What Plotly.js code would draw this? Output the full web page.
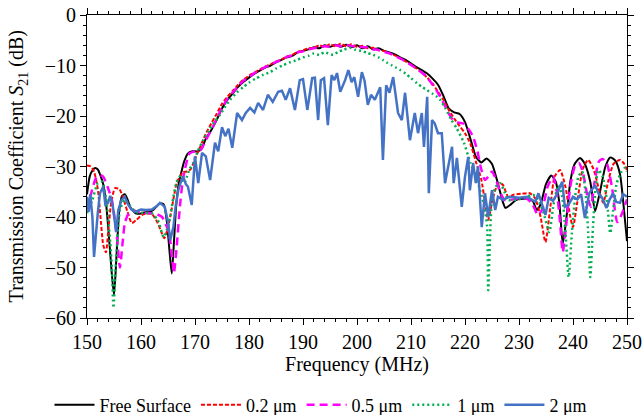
<!DOCTYPE html>
<html><head><meta charset="utf-8">
<script src="https://cdn.plot.ly/plotly-3.0.1.min.js"></script>
<style>html,body{margin:0;padding:0;background:#fff}#chart{width:642px;height:415px}</style>
</head><body><div id="chart"></div>
<script>
// Free Surface
var fFree = [150,150.5,151,151.5,152,152.5,153,153.5,154,154.5,155,155.5,156,156.5,157,157.5,158,159,160,161,162,162.8,163.5,164.2,164.8,165.3,165.7,166.1,166.5,167,167.5,168,168.7,169.5,170.5,171.2,172,173,174,175,176,177,178,179,180,181,182,183,184,185,186,187,188,189,190,191,192,193,194,195,196,197,198,199,200,201,202,203,204,205,206,207,208,209,210,211,212,213,214,215,216,217,218,219,220,221,222,223,224,225,226,227,227.5,228.5,229.5,231,232.5,233.3,234,235,236,236.8,237.5,238.1,238.8,239.5,240.3,241.3,242.2,243.2,244.1,245,246,246.9,247.8,248.7,249.3,250];
var sFree = [-35.5,-32,-30.8,-30.3,-30.6,-31.8,-33.5,-37,-43,-50,-55.5,-47,-38.5,-35.8,-35.5,-36.5,-38,-39.3,-39.3,-39,-38.8,-38,-37.3,-37.5,-41,-47,-51.2,-45,-38,-33.3,-31,-29,-27.4,-27,-27,-26.5,-24.5,-22.8,-20.8,-18.5,-16.8,-15.5,-14.2,-13.2,-12.4,-11.6,-11.0,-10.4,-10.0,-9.4,-8.9,-8.4,-8.1,-7.4,-7.1,-6.8,-6.4,-6.6,-6.0,-6.3,-5.9,-6.3,-5.9,-6.4,-6.0,-6.6,-6.2,-6.8,-6.6,-7.1,-7.4,-7.8,-8.4,-8.9,-9.6,-10.3,-10.9,-11.6,-12.6,-13.8,-16.0,-18.5,-19.3,-19.6,-21.2,-24.5,-28,-29.2,-28.4,-29.5,-33,-37,-38.2,-37.5,-36.6,-36.4,-36.8,-38.6,-37.5,-33.5,-31.8,-33,-37.5,-45.3,-40,-33,-29.5,-28.3,-29.5,-33,-38.8,-35,-30,-28.2,-28.8,-31.5,-37,-44.8];

// 0.2 um
var f02 = [150,150.7,151.3,152,152.5,153,153.5,154,154.5,155.2,156,156.7,157.5,158.3,159.2,160.2,161,162,163,163.6,164.3,164.9,165.4,166,166.6,167.2,167.8,168.5,169.2,170,171,172,173,174,175,176,177,178,179,180,181,182,183,184,185,186,187,188,189,190,191,192,193,194,195,196,197,198,199,200,201,202,203,204,205,206,207,208,209,210,211,212,213,214,215,216,217,218,219,220,221,222,223,223.7,224.3,225,225.6,226.3,227,228,229,230.5,232,233,234,234.9,235.8,236.6,237.6,238.6,239.5,240,240.8,241.8,242.8,243.8,244.8,245.6,246.5,247.5,248.7,249.5,250];
var s02 = [-29.8,-30,-31,-34.5,-40,-45.5,-47,-42,-37,-34.3,-34.5,-36.2,-39,-41.2,-40.5,-39.6,-39.3,-39.4,-41,-42.5,-44.2,-42.5,-40,-36.5,-33.3,-32,-31.1,-31,-30.5,-28.5,-26,-23.5,-21.5,-19.6,-17.6,-16.2,-15,-13.8,-12.8,-12,-11.4,-10.8,-10.2,-9.8,-9.2,-8.8,-8.2,-7.9,-7.3,-7.0,-6.6,-6.5,-6.0,-6.3,-5.8,-6.2,-5.7,-6.2,-5.8,-6.3,-6.1,-6.6,-6.5,-7.0,-7.1,-7.6,-8.0,-8.6,-9.2,-9.8,-10.6,-11.4,-12.4,-13.6,-15.2,-16.8,-18.8,-20.5,-22,-23.4,-25.5,-29,-32.5,-37,-40.6,-37,-34.7,-33.3,-33.6,-36,-35.6,-35.4,-35.3,-36.3,-40,-45,-38,-32,-30.7,-34,-40,-42,-37,-30.5,-28.7,-30.5,-34.5,-37.2,-33,-29.5,-28.7,-29.5,-30.7];

// 0.5 um
var f05 = [150,150.5,151.1,151.7,152.4,153,153.8,154.6,155.2,155.6,156.1,156.6,157,157.6,158.3,159.5,161,162.5,163.9,164.8,165.4,165.8,166.1,166.6,167.2,167.7,168.1,169,170,171,172,173,174,175,176,177,178,179,180,181,182,183,184,185,186,187,188,189,190,191,192,193,194,195,196,197,198,199,200,201,202,203,204,205,206,207,208,209,210,211,212,213,214,215,216,217,217.8,218.8,219.8,220.8,221.5,222.3,223,223.7,224.3,225,225.7,226.5,227.3,228.5,230,231.5,232.5,233.5,234.3,235.3,236.3,237,237.6,238.1,238.7,239.5,240.4,241.1,241.8,242.7,243.3,244,244.8,245.5,246.3,247.2,248.2,249,250];
var s05 = [-38.6,-36.5,-34,-32.2,-31.7,-32,-34,-36.6,-41,-44.6,-50,-45,-41.2,-39.5,-38.6,-39,-39.2,-39.3,-40,-42,-44.6,-48.5,-51.1,-46,-38,-33,-30.7,-27.4,-27,-26.8,-24.8,-22.8,-20.6,-18.4,-16.6,-15.3,-14.1,-13.0,-12.3,-11.5,-10.9,-10.3,-9.9,-9.3,-8.9,-8.3,-8.0,-7.4,-7.2,-6.8,-6.6,-6.4,-6.2,-6.3,-6.0,-6.2,-5.9,-6.2,-6.1,-6.4,-6.4,-6.8,-6.9,-7.3,-7.6,-8.1,-8.6,-9.2,-9.9,-10.6,-11.4,-12.4,-13.8,-15.4,-17.4,-19.5,-20.8,-21.3,-21.5,-22.8,-24.1,-27,-30.5,-32.7,-32,-31,-32.5,-35,-36.6,-36.6,-36.3,-36.4,-37.5,-39.6,-38.5,-34,-32,-35,-41,-47,-42,-34,-29.8,-29.3,-31,-36,-38,-33,-29,-28.5,-29.5,-34,-41,-39.5,-36.5];

// 1 um
var f1 = [150,151,152,152.8,153.5,153.9,154.3,154.6,154.9,155.2,155.5,155.8,156.1,157,158,159,160.5,162,163.1,163.7,164.2,164.8,165.4,166,166.6,167.2,168,168.5,169,169.7,170.5,171.5,172.5,173.5,174.6,175.5,176.5,177.7,178.9,180,181.2,182.5,183.9,185,186.2,187.5,188.9,190,191,192,193,194,195.6,196.5,197.5,198.7,199.8,200.8,201.9,203,204,204.8,205.5,206.5,207.2,208,209,210,211.1,212,213,214,214.8,215.4,216.4,217.5,218.5,219.8,221,222,222.8,223.6,224.1,224.3,224.6,225,225.7,226.5,227.3,228,229.5,231,232.6,233.5,234.5,235.6,236.4,237.3,238,238.6,239.2,239.8,240.4,241,241.7,242.3,242.8,243.2,243.7,244.2,244.7,245.5,246.3,246.9,247.5,248.1,249,249.6,250];
var s1 = [-39.2,-36.6,-33.3,-33,-36,-40,-45,-50,-58,-52,-46.5,-41.5,-38.6,-36.6,-37.8,-39,-39.2,-39.3,-40.6,-42.5,-44,-42.5,-40,-36,-33,-32,-33.3,-32,-30.5,-29.3,-27,-24.8,-23,-21.3,-19.8,-18.3,-16.8,-15.4,-14.3,-13.4,-12.6,-11.9,-11.3,-10.6,-10,-9.4,-8.9,-8.4,-8.1,-7.6,-7.9,-7.4,-7.9,-7.3,-6.9,-6.5,-6.9,-7.1,-7.5,-7.9,-8.4,-8.9,-9.4,-10,-10.4,-10.9,-11.6,-12.5,-13.5,-14.2,-14.9,-15.6,-16.2,-16.8,-18.5,-20.8,-22.5,-25.3,-29.3,-32,-34.7,-38,-42,-54.5,-45,-36.6,-34,-33.3,-35,-36.6,-36.6,-36.2,-35.6,-36.5,-39,-43,-37.5,-33.7,-36,-43,-51.9,-43,-36,-32,-31,-35,-43,-51.9,-42,-34,-30.7,-32,-37,-43.2,-38,-33.3,-31,-30.3,-31];

// 2 um
var f2 = [150,150.3,150.6,151,151.3,151.7,152,152.4,153,153.4,153.9,154.3,154.8,155.4,155.8,156.4,157,157.6,158.2,158.9,160,161,162,163,163.5,164.4,165,165.4,166,166.4,166.9,167.4,167.8,168.3,168.7,169.4,170,170.6,171.3,172,172.8,173.7,174.3,175,175.6,176.2,176.9,177.8,178.7,179.4,180.2,181,181.7,182.6,183.5,184.4,185.4,186.1,186.8,187.6,188.5,189.4,190,190.8,191.7,192.2,192.8,193.3,193.9,194.6,195.3,195.8,196.3,196.9,197.8,198.4,199,199.5,200.2,200.9,201.4,202,202.6,203.3,204.3,204.8,205.4,206,206.7,207.6,208.3,208.9,209.8,210.7,211.3,212,212.4,213,213.3,213.9,214.4,215,215.7,216.3,216.9,217.6,217.9,218.5,219.4,220,220.6,220.9,221.5,222,222.4,223.1,223.7,224.3,225,225.6,226.1,227,228.3,230,231.5,233,233.6,234.5,234.9,235.5,236.3,237,238,238.5,239.2,240,240.8,241.5,242.2,243,244.1,244.8,245.4,246.2,246.8,247.4,248,248.7,249.3,250];
var s2 = [-36,-39,-35.5,-40,-47.9,-42,-39.2,-35.3,-34,-37.5,-37.2,-35.8,-38,-43,-38.6,-36.6,-36,-37.5,-38.5,-39,-38.5,-38.6,-38.5,-37.8,-37.2,-38,-41,-44.6,-42,-38,-34.7,-33,-32,-33.5,-34,-37.6,-28,-33.3,-27.3,-28,-32.7,-25.3,-27,-22.2,-24,-22.5,-26.3,-19.4,-20.8,-19.4,-18.4,-19.3,-17.4,-18.8,-15.8,-17.2,-15.2,-15,-16.8,-14.5,-18.8,-12.9,-12.7,-18.8,-12.5,-12.4,-20.8,-12.9,-12.5,-21.8,-11.9,-12.9,-11.5,-15.2,-12.9,-10.9,-13.3,-12.3,-16.2,-11.3,-13,-17.8,-15.8,-16.8,-14.3,-28.7,-13.9,-15.4,-12.3,-19.4,-20.8,-15.4,-24.8,-19.4,-23.4,-19.4,-26.1,-16.2,-35.3,-20.8,-21.5,-23.4,-23.4,-33.3,-30,-26.1,-33.3,-28.3,-38,-32,-28.1,-34.7,-29.3,-33.3,-30,-42,-35.3,-40,-34.7,-38.6,-36,-36.6,-36,-36.2,-36,-37,-35.3,-38.5,-39.6,-36.2,-36.8,-35.5,-33,-38,-37.5,-36,-36.5,-35.5,-40.2,-35.3,-33.7,-35.5,-36.2,-38.2,-36.5,-35.3,-37,-37.2,-35.5,-36];

var seriesNames = ['Free Surface','0.2 \u03bcm','0.5 \u03bcm','1 \u03bcm','2 \u03bcm'];
var xTickVals = [150,160,170,180,190,200,210,220,230,240,250];
var yTickVals = [0,-10,-20,-30,-40,-50,-60];
var yTitle = 'Transmission Coefficient <i>S</i><sub>21</sub> (dB)';
var xTitle = 'Frequency (MHz)';

var serif = '"Liberation Serif", "Times New Roman", serif';
var traces = [
  {x:fFree, y:sFree, name:seriesNames[0], mode:'lines', line:{color:'#000000', width:2, shape:'spline', smoothing:0.6}},
  {x:f02, y:s02, name:seriesNames[1], mode:'lines', line:{color:'#ff0000', width:2, dash:'4px,2px', shape:'spline', smoothing:0.6}},
  {x:f05, y:s05, name:seriesNames[2], mode:'lines', line:{color:'#ff00ff', width:2.5, dash:'8px,5px', shape:'spline', smoothing:0.6}},
  {x:f1, y:s1, name:seriesNames[3], mode:'lines', line:{color:'#00b050', width:2.5, dash:'2px,3px', shape:'spline', smoothing:0.6}},
  {x:f2, y:s2, name:seriesNames[4], mode:'lines', line:{color:'#4472c4', width:2.5}}
];

var axisCommon = {
  showline:true, linecolor:'#000', linewidth:1, mirror:'ticks',
  ticks:'outside', ticklen:6, tickwidth:1, tickcolor:'#000',
  showgrid:false, zeroline:false,
  tickfont:{family:serif, size:20, color:'#000'}
};

var layout = {
  width:642, height:415,
  font:{family:serif, color:'#000'},
  margin:{l:87, r:15, t:15, b:97},
  paper_bgcolor:'#fff', plot_bgcolor:'#fff',
  showlegend:true,
  legend:{orientation:'h', x:0.5, xanchor:'center', xref:'container', y:0.024, yref:'container', yanchor:'middle',
          font:{family:serif, size:18, color:'#000'}, itemwidth:40, tracegroupgap:0},
  xaxis:Object.assign({}, axisCommon, {
    range:[150,250], tickvals:xTickVals, ticktext:xTickVals.map(String),
    minor:{dtick:2, tick0:150, ticklen:3, tickcolor:'#000', ticks:'outside', showgrid:false},
    title:{text:xTitle, font:{family:serif, size:20, color:'#000'}, standoff:4}
  }),
  yaxis:Object.assign({}, axisCommon, {
    range:[-60,0], tickvals:yTickVals, ticktext:yTickVals.map(function(v){return v<0?'\u2212'+(-v):String(v);}),
    minor:{dtick:2, tick0:0, ticklen:3, tickcolor:'#000', ticks:'outside', showgrid:false},
    title:{text:''}
  }),
  annotations:[{
    text:yTitle, xref:'paper', yref:'paper', x:-0.128, y:0.5, xanchor:'center', yanchor:'middle',
    textangle:-90, showarrow:false, font:{family:serif, size:20, color:'#000'}
  }]
};

Plotly.newPlot('chart', traces, layout, {displayModeBar:false, staticPlot:true});
</script>
</body></html>
